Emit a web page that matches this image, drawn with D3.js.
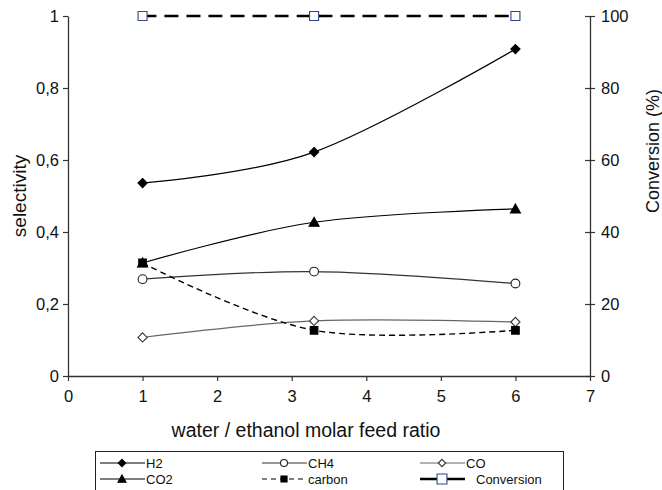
<!DOCTYPE html>
<html>
<head>
<meta charset="utf-8">
<script src="https://cdn.jsdelivr.net/npm/d3@7"></script>
<style>
  body { margin: 0; background: #fff; }
  svg { font-family: "Liberation Sans", Arial, sans-serif; }
</style>
</head>
<body>
<svg id="chart" width="662" height="490"></svg>
<script>
// feed ratios
const ratio = [1, 3.3, 6];
const h2 = [0.536, 0.622, 0.908];
const co2 = [0.314, 0.427, 0.464];
const ch4 = [0.269, 0.29, 0.257];
const co = [0.107, 0.153, 0.15];
const carbon = [0.314, 0.127, 0.127];
const conversion = [100, 100, 100];

const xTicks = [0, 1, 2, 3, 4, 5, 6, 7];
const yTicks = [0, 0.2, 0.4, 0.6, 0.8, 1];
const y2Ticks = [0, 20, 40, 60, 80, 100];

const width = 662, height = 490;
const margin = {top: 16, right: 72, bottom: 114, left: 68};

const svg = d3.select("#chart");

const x = d3.scaleLinear().domain([0, 7]).range([margin.left, width - margin.right]);
const y = d3.scaleLinear().domain([0, 1]).range([height - margin.bottom, margin.top]);
const y2 = d3.scaleLinear().domain([0, 100]).range([height - margin.bottom, margin.top]);

const fmt = d => d === 0 || d === 1 ? String(d) : String(d).replace(".", ",");
const axisColor = "#333";

// axes
const gx = svg.append("g")
  .attr("transform", `translate(0,${y(0)})`)
  .call(d3.axisBottom(x).tickValues(xTicks).tickFormat(d3.format("d")).tickSize(5).tickSizeOuter(0).tickPadding(9));

const gy = svg.append("g")
  .attr("transform", `translate(${margin.left},0)`)
  .call(d3.axisLeft(y).tickValues(yTicks).tickFormat(fmt).tickSize(5).tickSizeOuter(0).tickPadding(4));

const gy2 = svg.append("g")
  .attr("transform", `translate(${x(7)},0)`)
  .call(d3.axisRight(y2).tickValues(y2Ticks).tickSize(5).tickSizeOuter(0).tickPadding(6));
gy2.selectAll(".tick line").attr("x1", -5);

[gx, gy, gy2].forEach(g => {
  g.select(".domain").attr("stroke", axisColor).attr("stroke-width", 1.3);
  g.selectAll(".tick line").attr("stroke", axisColor).attr("stroke-width", 1.2);
  g.selectAll(".tick text").attr("fill", "#111").attr("font-size", 16.5)
    .attr("font-family", "Liberation Sans, Arial, sans-serif");
});

// axis titles
svg.append("text")
  .attr("x", 306).attr("y", 437)
  .attr("text-anchor", "middle")
  .attr("font-size", 19.5).attr("fill", "#111")
  .text("water / ethanol molar feed ratio");

svg.append("text")
  .attr("transform", `translate(26,${196}) rotate(-90)`)
  .attr("text-anchor", "middle")
  .attr("font-size", 19).attr("fill", "#111")
  .text("selectivity");

svg.append("text")
  .attr("transform", `translate(659,${151}) rotate(-90)`)
  .attr("text-anchor", "middle")
  .attr("font-size", 18).attr("fill", "#111")
  .text("Conversion (%)");

// series
const series = [
  {name: "H2", values: h2, scale: y, stroke: "#000", width: 1.2, dash: null, marker: "diamond", fill: "#000", mstroke: "#000"},
  {name: "CH4", values: ch4, scale: y, stroke: "#333", width: 1.2, dash: null, marker: "circle", fill: "#fff", mstroke: "#222"},
  {name: "CO", values: co, scale: y, stroke: "#666", width: 1.2, dash: null, marker: "diamond", fill: "#fff", mstroke: "#333"},
  {name: "CO2", values: co2, scale: y, stroke: "#000", width: 1.2, dash: null, marker: "triangle", fill: "#000", mstroke: "#000"},
  {name: "carbon", values: carbon, scale: y, stroke: "#000", width: 1.4, dash: "6,4", marker: "square", fill: "#000", mstroke: "#000"},
  {name: "Conversion", values: conversion, scale: y2, stroke: "#000", width: 2.6, dash: "14,8", marker: "open", fill: "#fff", mstroke: "#334488"}
];

// marker shapes, r = half width
function markerPath(type, r) {
  if (type === "diamond") return `M0,${-r}L${r},0L0,${r}L${-r},0Z`;
  if (type === "triangle") return `M0,${-r}L${r},${r * 0.8}L${-r},${r * 0.8}Z`;
  return `M${-r},${-r}H${r}V${r}H${-r}Z`;
}

function drawMarker(g, s, cx, cy, scale) {
  const k = scale || 1;
  if (s.marker === "circle") {
    g.append("circle").attr("cx", cx).attr("cy", cy).attr("r", 4.4 * k)
      .attr("fill", s.fill).attr("stroke", s.mstroke).attr("stroke-width", 1.1);
    return;
  }
  const r = {diamond: 4.6, triangle: 5, square: 3.8, open: 4.5}[s.marker] * k;
  g.append("path")
    .attr("transform", `translate(${cx},${cy})`)
    .attr("d", markerPath(s.marker, r))
    .attr("fill", s.fill).attr("stroke", s.mstroke).attr("stroke-width", 1.1);
}

const line = d3.line().curve(d3.curveCardinal.tension(0));

series.forEach(s => {
  const pts = ratio.map((r, i) => [x(r), s.scale(s.values[i])]);
  svg.append("path")
    .attr("d", line(pts))
    .attr("fill", "none")
    .attr("stroke", s.stroke)
    .attr("stroke-width", s.width)
    .attr("stroke-dasharray", s.dash);
  const g = svg.append("g");
  pts.forEach(p => drawMarker(g, s, p[0], p[1]));
});

// legend
const legend = svg.append("g");
legend.append("rect")
  .attr("x", 95.5).attr("y", 451.5).attr("width", 468).attr("height", 50)
  .attr("fill", "#fff").attr("stroke", "#222").attr("stroke-width", 1);

const legendPos = [
  {name: "H2", x: 100, y: 463},
  {name: "CH4", x: 262, y: 463},
  {name: "CO", x: 420, y: 463},
  {name: "CO2", x: 100, y: 479},
  {name: "carbon", x: 262, y: 479},
  {name: "Conversion", x: 420, y: 479}
];

legendPos.forEach(lp => {
  const s = series.find(d => d.name === lp.name);
  const g = legend.append("g");
  g.append("line")
    .attr("x1", lp.x).attr("x2", lp.x + 45).attr("y1", lp.y).attr("y2", lp.y)
    .attr("stroke", s.stroke)
    .attr("stroke-width", s.name === "Conversion" ? 2.4 : 1.1)
    .attr("stroke-dasharray", s.name === "carbon" ? "5,4" : null);
  drawMarker(g, s, lp.x + 22, lp.y, s.name === "Conversion" ? 1.1 : 0.8);
  g.append("text")
    .attr("x", lp.x + (s.name === "Conversion" ? 56 : 46)).attr("y", lp.y + 4.5)
    .attr("font-size", 13).attr("fill", "#111")
    .text(s.name);
});
</script>
</body>
</html>
